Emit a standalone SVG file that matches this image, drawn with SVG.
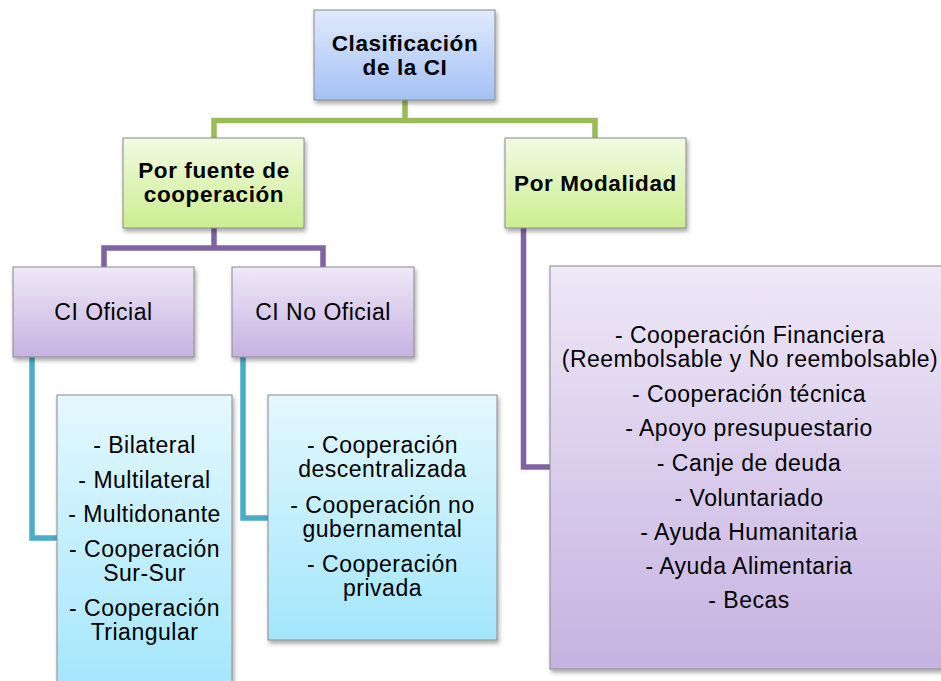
<svg xmlns="http://www.w3.org/2000/svg" width="941" height="681" viewBox="0 0 941 681">
<defs>
<linearGradient id="gBlue" x1="0" y1="0" x2="0" y2="1"><stop offset="0" stop-color="#e0eafc"/><stop offset="1" stop-color="#a4c1f5"/></linearGradient>
<linearGradient id="gGreen" x1="0" y1="0" x2="0" y2="1"><stop offset="0" stop-color="#f2fae3"/><stop offset="1" stop-color="#cbee8f"/></linearGradient>
<linearGradient id="gPurple" x1="0" y1="0" x2="0" y2="1"><stop offset="0" stop-color="#eee8f7"/><stop offset="1" stop-color="#c6b2e1"/></linearGradient>
<linearGradient id="gCyan" x1="0" y1="0" x2="0" y2="1"><stop offset="0" stop-color="#e4f8fe"/><stop offset="1" stop-color="#a2e6fc"/></linearGradient>
<filter id="sh" x="-10%" y="-10%" width="130%" height="130%"><feDropShadow dx="1.5" dy="3" stdDeviation="2" flood-color="#000" flood-opacity="0.35"/></filter>
</defs>
<style>
.box{stroke:#8a8a8a;stroke-width:1;filter:url(#sh)}
.t{font-family:"Liberation Sans",Arial,sans-serif;font-size:23px;letter-spacing:0.5px;fill:#000;text-anchor:middle}
.b{font-weight:bold;font-size:22.5px;letter-spacing:0.6px}
.c{fill:none;stroke-width:5.5;stroke-linejoin:miter}
</style>
<rect width="941" height="681" fill="#fff"/>
<g id="connectors">
<path class="c" stroke="#9bbb59" d="M214 138V120.5H595V138M405 100V120.5"/>
<path class="c" stroke="#8064a2" d="M104 267V248H323V267M214 228V248"/>
<path class="c" stroke="#8064a2" d="M523.5 228V467H551"/>
<path class="c" stroke="#4bacc6" d="M32 357V538H57"/>
<path class="c" stroke="#4bacc6" d="M243 357V518H268"/>
</g>
<g id="root">
<rect class="box" x="314" y="10" width="181" height="90" fill="url(#gBlue)"/>
<text class="t b" x="405" y="51">Clasificación</text>
<text class="t b" x="405" y="75">de la CI</text>
</g>
<g id="fuente">
<rect class="box" x="123" y="138" width="181" height="90" fill="url(#gGreen)"/>
<text class="t b" x="214" y="178">Por fuente de</text>
<text class="t b" x="214" y="202">cooperación</text>
</g>
<g id="modalidad">
<rect class="box" x="505" y="138" width="181" height="90" fill="url(#gGreen)"/>
<text class="t b" x="595.5" y="191">Por Modalidad</text>
</g>
<g id="oficial">
<rect class="box" x="13" y="267" width="181" height="90" fill="url(#gPurple)"/>
<text class="t" x="103.5" y="320">CI Oficial</text>
</g>
<g id="nooficial">
<rect class="box" x="232" y="267" width="182" height="90" fill="url(#gPurple)"/>
<text class="t" x="323" y="320">CI No Oficial</text>
</g>
<g id="oficial-list">
<rect class="box" x="57" y="395" width="175" height="300" fill="url(#gCyan)"/>
<text class="t" x="144.5" y="453">- Bilateral</text>
<text class="t" x="144.5" y="488">- Multilateral</text>
<text class="t" x="144.5" y="522">- Multidonante</text>
<text class="t" x="144.5" y="557">- Cooperación</text>
<text class="t" x="144.5" y="581">Sur-Sur</text>
<text class="t" x="144.5" y="616">- Cooperación</text>
<text class="t" x="144.5" y="640">Triangular</text>
</g>
<g id="nooficial-list">
<rect class="box" x="268" y="395" width="229" height="245" fill="url(#gCyan)"/>
<text class="t" x="382.5" y="453">- Cooperación</text>
<text class="t" x="382.5" y="477">descentralizada</text>
<text class="t" x="382.5" y="513">- Cooperación no</text>
<text class="t" x="382.5" y="537">gubernamental</text>
<text class="t" x="382.5" y="572">- Cooperación</text>
<text class="t" x="382.5" y="596">privada</text>
</g>
<g id="modalidad-list">
<rect class="box" x="550" y="266" width="398" height="403" fill="url(#gPurple)"/>
<text class="t" x="750" y="343">- Cooperación Financiera</text>
<text class="t" x="750" y="367">(Reembolsable y No reembolsable)</text>
<text class="t" x="749" y="402">- Cooperación técnica</text>
<text class="t" x="749" y="436">- Apoyo presupuestario</text>
<text class="t" x="749" y="471">- Canje de deuda</text>
<text class="t" x="749" y="506">- Voluntariado</text>
<text class="t" x="749" y="540">- Ayuda Humanitaria</text>
<text class="t" x="749" y="574">- Ayuda Alimentaria</text>
<text class="t" x="749" y="608">- Becas</text>
</g>
</svg>
